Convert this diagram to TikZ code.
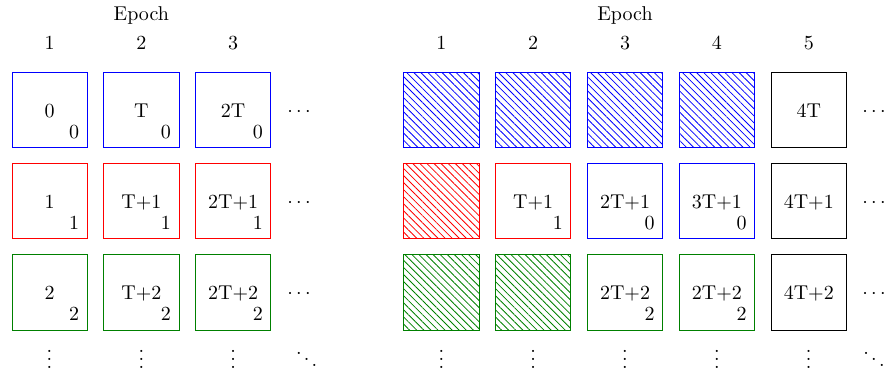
\documentclass[tikz,border=0pt]{standalone}
\usetikzlibrary{patterns.meta}
\definecolor{dgreen}{rgb}{0,0.5,0}
\tikzset{
  cell/.style={draw=#1, minimum size=37.6pt, inner sep=0pt, line width=0.4pt},
  hatch/.style={cell=#1, pattern={Lines[angle=-45,distance=2.5pt,line width=0.4pt]}, pattern color=#1},
  lbl/.style={anchor=base, inner sep=0pt},
  sublbl/.style={anchor=base east, inner sep=0pt},
}
\begin{document}
\begin{tikzpicture}[x=0.5pt,y=-0.5pt]
\useasboundingbox (0,0) rectangle (886,373);

% ---------------- left panel ----------------
\node[lbl] (epL) at (141.35,21) {Epoch};
\node[lbl] (hL1) at (49.5,50) {1};
\node[lbl] (hL2) at (141.35,50) {2};
\node[lbl] (hL3) at (233.2,50) {3};

% row 1 (blue)
\node[cell=blue] (a11) at (49.5,110.2) {};
\node[cell=blue] (a12) at (141.35,110.2) {};
\node[cell=blue] (a13) at (233.2,110.2) {};
% row 2 (red)
\node[cell=red] (a21) at (49.5,201.3) {};
\node[cell=red] (a22) at (141.35,201.3) {};
\node[cell=red] (a23) at (233.2,201.3) {};
% row 3 (green)
\node[cell=dgreen] (a31) at (49.5,292.4) {};
\node[cell=dgreen] (a32) at (141.35,292.4) {};
\node[cell=dgreen] (a33) at (233.2,292.4) {};

\node[lbl] (a11t) at ([yshift=-3.5pt]a11.center) {0};
\node[sublbl] (a11s) at ([shift={(-4pt,4.75pt)}]a11.south east) {0};
\node[lbl] (a12t) at ([yshift=-3.5pt]a12.center) {T};
\node[sublbl] (a12s) at ([shift={(-4pt,4.75pt)}]a12.south east) {0};
\node[lbl] (a13t) at ([yshift=-3.5pt]a13.center) {2T};
\node[sublbl] (a13s) at ([shift={(-4pt,4.75pt)}]a13.south east) {0};

\node[lbl] (a21t) at ([yshift=-3.5pt]a21.center) {1};
\node[sublbl] (a21s) at ([shift={(-4pt,4.75pt)}]a21.south east) {1};
\node[lbl] (a22t) at ([yshift=-3.5pt]a22.center) {T+1};
\node[sublbl] (a22s) at ([shift={(-4pt,4.75pt)}]a22.south east) {1};
\node[lbl] (a23t) at ([yshift=-3.5pt]a23.center) {2T+1};
\node[sublbl] (a23s) at ([shift={(-4pt,4.75pt)}]a23.south east) {1};

\node[lbl] (a31t) at ([yshift=-3.5pt]a31.center) {2};
\node[sublbl] (a31s) at ([shift={(-4pt,4.75pt)}]a31.south east) {2};
\node[lbl] (a32t) at ([yshift=-3.5pt]a32.center) {T+2};
\node[sublbl] (a32s) at ([shift={(-4pt,4.75pt)}]a32.south east) {2};
\node[lbl] (a33t) at ([yshift=-3.5pt]a33.center) {2T+2};
\node[sublbl] (a33s) at ([shift={(-4pt,4.75pt)}]a33.south east) {2};

\node[lbl] (dLh1) at (299,116.4) {$\cdots$};
\node[lbl] (dLh2) at (299,207.5) {$\cdots$};
\node[lbl] (dLh3) at (299,298.6) {$\cdots$};
\node[lbl] (dLv1) at (49.5,368.3) {\smash{$\vdots$}};
\node[lbl] (dLv2) at (141.35,368.3) {\smash{$\vdots$}};
\node[lbl] (dLv3) at (233.2,368.3) {\smash{$\vdots$}};
\node[lbl] (dLd) at (306.7,368.3) {\smash{$\ddots$}};

% ---------------- right panel ----------------
\node[lbl] (epR) at (625,21) {Epoch};
\node[lbl] (hR1) at (441.3,50) {1};
\node[lbl] (hR2) at (533.15,50) {2};
\node[lbl] (hR3) at (625,50) {3};
\node[lbl] (hR4) at (716.9,50) {4};
\node[lbl] (hR5) at (808.75,50) {5};

% row 1
\node[hatch=blue] (b11) at (441.3,110.2) {};
\node[hatch=blue] (b12) at (533.15,110.2) {};
\node[hatch=blue] (b13) at (625,110.2) {};
\node[hatch=blue] (b14) at (716.9,110.2) {};
\node[cell=black] (b15) at (808.75,110.2) {};
% row 2
\node[hatch=red] (b21) at (441.3,201.3) {};
\node[cell=red] (b22) at (533.15,201.3) {};
\node[cell=blue] (b23) at (625,201.3) {};
\node[cell=blue] (b24) at (716.9,201.3) {};
\node[cell=black] (b25) at (808.75,201.3) {};
% row 3
\node[hatch=dgreen] (b31) at (441.3,292.4) {};
\node[hatch=dgreen] (b32) at (533.15,292.4) {};
\node[cell=dgreen] (b33) at (625,292.4) {};
\node[cell=dgreen] (b34) at (716.9,292.4) {};
\node[cell=black] (b35) at (808.75,292.4) {};

\node[lbl] (b15t) at ([yshift=-3.5pt]b15.center) {4T};

\node[lbl] (b22t) at ([yshift=-3.5pt]b22.center) {T+1};
\node[sublbl] (b22s) at ([shift={(-4pt,4.75pt)}]b22.south east) {1};
\node[lbl] (b23t) at ([yshift=-3.5pt]b23.center) {2T+1};
\node[sublbl] (b23s) at ([shift={(-4pt,4.75pt)}]b23.south east) {0};
\node[lbl] (b24t) at ([yshift=-3.5pt]b24.center) {3T+1};
\node[sublbl] (b24s) at ([shift={(-4pt,4.75pt)}]b24.south east) {0};
\node[lbl] (b25t) at ([yshift=-3.5pt]b25.center) {4T+1};

\node[lbl] (b33t) at ([yshift=-3.5pt]b33.center) {2T+2};
\node[sublbl] (b33s) at ([shift={(-4pt,4.75pt)}]b33.south east) {2};
\node[lbl] (b34t) at ([yshift=-3.5pt]b34.center) {2T+2};
\node[sublbl] (b34s) at ([shift={(-4pt,4.75pt)}]b34.south east) {2};
\node[lbl] (b35t) at ([yshift=-3.5pt]b35.center) {4T+2};

\node[lbl] (dRh1) at (874,116.4) {$\cdots$};
\node[lbl] (dRh2) at (874,207.5) {$\cdots$};
\node[lbl] (dRh3) at (874,298.6) {$\cdots$};
\node[lbl] (dRv1) at (441.3,368.3) {\smash{$\vdots$}};
\node[lbl] (dRv2) at (533.15,368.3) {\smash{$\vdots$}};
\node[lbl] (dRv3) at (625,368.3) {\smash{$\vdots$}};
\node[lbl] (dRv4) at (716.9,368.3) {\smash{$\vdots$}};
\node[lbl] (dRv5) at (808.75,368.3) {\smash{$\vdots$}};
\node[lbl] (dRd) at (874,368.3) {\smash{$\ddots$}};
\end{tikzpicture}
\end{document}
